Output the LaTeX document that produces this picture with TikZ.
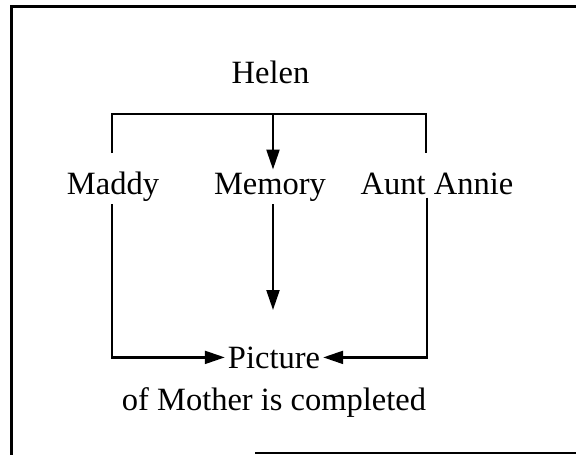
\documentclass[tikz,border=0pt]{standalone}
\usepackage{fontspec}
\setmainfont{Liberation Serif}
\usetikzlibrary{arrows.meta}
\begin{document}
\begin{tikzpicture}[x=1pt,y=-1pt,
  label/.style={font=\fontsize{32.5}{39}\selectfont, inner sep=3pt, anchor=base},
  link/.style={line width=2.2pt},
  arrow/.style={link, -{Triangle[length=20pt,width=13pt]}},
  frame/.style={line width=3pt}]
  \useasboundingbox (0,0) rectangle (576,455);
  % frame around the chart
  \draw[frame] (11,456) -- (11,6) -- (577,6);
  \draw[line width=1.4pt] (255,453) -- (577,453);

  % names
  \node[label] (helen)   at (270.5,83) {Helen};
  \node[label] (maddy)   at (113,194) {Maddy};
  \node[label] (memory)  at (270,194) {Memory};
  \node[label] (annie)   at (437,194) {Aunt Annie};
  \node[label] (picture) at (274,368) {Picture};
  \node[label] (result)  at (274,410) {of Mother is completed};

  % bracket under Helen
  \coordinate (barL) at (112,114);
  \coordinate (barM) at (273,114);
  \coordinate (barR) at (426,114);
  \coordinate (dropL) at (112,153);
  \coordinate (dropR) at (426,153);
  \coordinate (lowTip) at (273,310);
  \draw[link] (dropL) -- (barL) -- (barR) -- (dropR);
  \draw[arrow] (barM) -- (memory.north -| barM);

  % paths towards the picture
  \draw[arrow] (memory.south -| barM) -- (lowTip);
  \draw[arrow] (maddy.south -| barL) |- (picture.west);
  \draw[arrow] ([xshift=1pt]annie.south -| barR) |- (picture.east);
\end{tikzpicture}
\end{document}
